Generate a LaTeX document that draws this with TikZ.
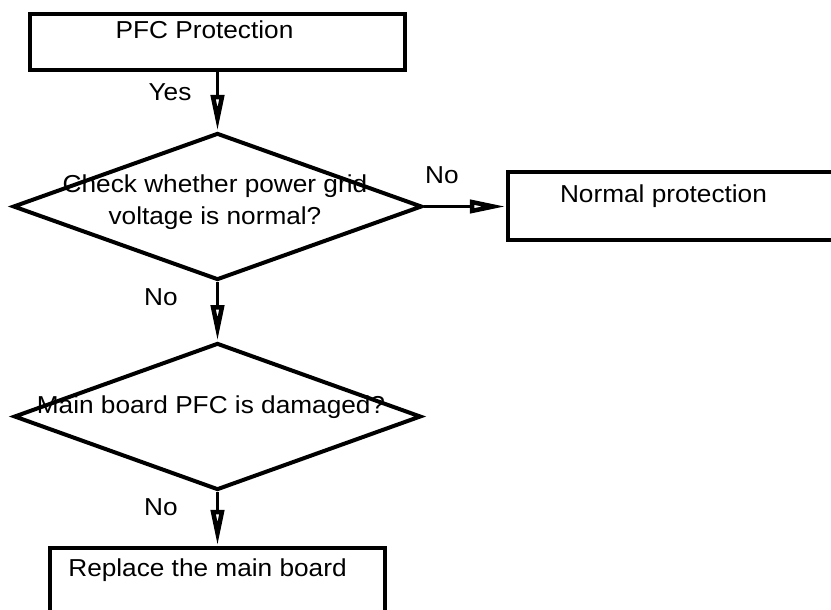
\documentclass[tikz,border=0pt]{standalone}
\usepackage{fontspec}
\setmainfont{Liberation Sans}[FakeStretch=1.07]
\usetikzlibrary{shapes.geometric, arrows.meta}
\tikzstyle{process} = [rectangle, draw=black, line width=4.5pt, inner sep=0pt]
\tikzstyle{decision} = [diamond, draw=black, line width=4pt, inner sep=0pt]
\tikzstyle{txt} = [inner sep=0pt, align=center, font=\fontsize{24.5}{32}\selectfont]
\tikzstyle{arrow} = [line width=3.5pt, -{Triangle[open, length=36pt, width=13pt, line width=4.5pt]}]

\begin{document}
\begin{tikzpicture}[x=1pt, y=-1pt]
        \useasboundingbox (0,0) rectangle (831,610);
        \clip (0,0) rectangle (831,610);

        % Blocos
        \node (protect) [process, minimum width=375pt, minimum height=56pt] at (217.5,42) {};
        \node (check) [decision, minimum width=409pt, minimum height=147pt] at (217.5,206.5) {};
        \node (normal) [process, minimum width=352pt, minimum height=68pt] at (684,206) {};
        \node (damaged) [decision, minimum width=407pt, minimum height=147pt] at (217.5,416.5) {};
        \node (replace) [process, minimum width=335pt, minimum height=92pt] at (217.5,594) {};

        % Textos
        \node (protecttxt) [txt, anchor=base] at (204.5,39) {PFC Protection};
        \node (checktxt) [txt] at (215,202) {Check whether power grid\\voltage is normal?};
        \node (normaltxt) [txt, anchor=base] at (663.5,202) {Normal protection};
        \node (damagedtxt) [txt, anchor=base] at (211,413) {Main board PFC is damaged?};
        \node (replacetxt) [txt, anchor=base] at (207.5,576) {Replace the main board};

        % Setas
        \draw [arrow] (protect.south) -- (check.north);
        \draw [arrow] (check.east) -- (check.east -| normal.west);
        \draw [arrow] (check.south) -- (damaged.north);
        \draw [arrow] (damaged.south) -- (replace.north);

        % Rotulos das setas
        \node (textyes) [txt, anchor=base] at (170,100) {Yes};
        \node (textno1) [txt, anchor=base] at (442,183) {No};
        \node (textno2) [txt, anchor=base] at (161,305) {No};
        \node (textno3) [txt, anchor=base] at (161,515) {No};

\end{tikzpicture}
\end{document}
